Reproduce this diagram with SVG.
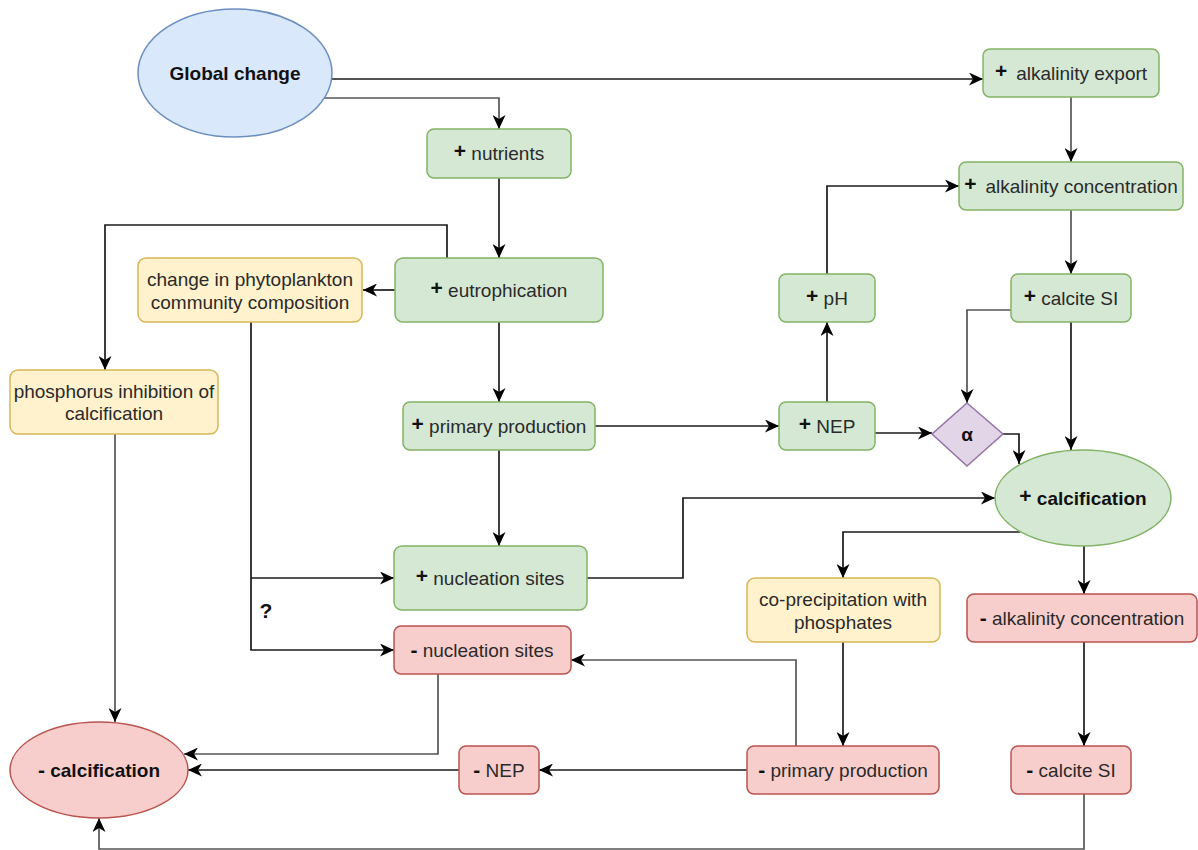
<svg xmlns="http://www.w3.org/2000/svg" width="1198" height="850" viewBox="0 0 1198 850">
<style>
text{font-family:"Liberation Sans",Arial,sans-serif;font-size:19px;fill:#2a2a2a;text-anchor:middle}
.b{font-weight:bold;fill:#111}
.s{font-weight:bold;fill:#111;font-size:21px}
.g{fill:#d5e8d4;stroke:#82b366;stroke-width:1.5}
.y{fill:#fff2cc;stroke:#d6b656;stroke-width:1.5}
.r{fill:#f8cecc;stroke:#b85450;stroke-width:1.5}
.bl{fill:#dae8fc;stroke:#6c8ebf;stroke-width:1.5}
.p{fill:#e1d5e7;stroke:#9673a6;stroke-width:1.5}
.c path{fill:none;stroke:#1a1a1a;stroke-width:1.7;marker-end:url(#a)}
.c path.gr{stroke:#555}
</style>
<defs>
<marker id="a" markerUnits="userSpaceOnUse" markerWidth="15" markerHeight="13" viewBox="0 0 15 13" refX="14" refY="6.5" orient="auto">
<path d="M0,0 L14,6.5 L0,13 L4,6.5 Z" fill="#000"/>
</marker>
</defs>
<rect width="1198" height="850" fill="#fff"/>
<g class="c" id="connectors">
<path d="M332,79 H983"/>
<path d="M323,98 H499 V129" class="gr"/>
<path d="M1071,97 V162" class="gr"/>
<path d="M1071,210 V274" class="gr"/>
<path d="M499,178 V258"/>
<path d="M395,290 H363"/>
<path d="M447,258 V225 H105 V370"/>
<path d="M499,322 V402"/>
<path d="M595,426 H779"/>
<path d="M827,402 V322"/>
<path d="M827,274 V186 H959"/>
<path d="M875,433 H932"/>
<path d="M1011,310 H967 V403" class="gr"/>
<path d="M1003,434 H1019 V464"/>
<path d="M1071,322 V450"/>
<path d="M499,450 V546"/>
<path d="M251,322 V650 H394"/>
<path d="M251,578 H394"/>
<path d="M587,578 H683 V498 H995"/>
<path d="M1020,532 H843 V578"/>
<path d="M1084,546 V594"/>
<path d="M843,642 V746"/>
<path d="M1084,642 V746"/>
<path d="M796,746 V660 H571" class="gr"/>
<path d="M747,770 H539"/>
<path d="M459,770 H188"/>
<path d="M438,674 V754 H184" class="gr"/>
<path d="M115,434 V722" class="gr"/>
<path d="M1084,794 V849 H99 V818" class="gr"/>
</g>
<g id="global-change"><ellipse class="bl" cx="235" cy="73" rx="97" ry="64"/><text x="235" y="80" class="b">Global change</text></g>
<g id="alk-export"><rect class="g" x="983" y="49" width="176" height="48" rx="7"/><text x="1071" y="80"><tspan class="s" dy="-2">+</tspan><tspan dx="9" dy="2">alkalinity export</tspan></text></g>
<g id="nutrients"><rect class="g" x="427" y="129" width="144" height="49" rx="7"/><text x="499" y="160"><tspan class="s" dy="-2">+</tspan><tspan dy="2"> nutrients</tspan></text></g>
<g id="alk-conc"><rect class="g" x="959" y="162" width="224" height="48" rx="7"/><text x="1071" y="193"><tspan class="s" dy="-2">+</tspan><tspan dx="9" dy="2">alkalinity concentration</tspan></text></g>
<g id="calcite-si"><rect class="g" x="1011" y="274" width="120" height="48" rx="7"/><text x="1071" y="305"><tspan class="s" dy="-2">+</tspan><tspan dy="2"> calcite SI</tspan></text></g>
<g id="phyto"><rect class="y" x="138" y="258" width="224" height="64" rx="8"/><text x="250" y="286">change in phytoplankton</text><text x="250" y="309">community composition</text></g>
<g id="eutrophication"><rect class="g" x="395" y="258" width="208" height="64" rx="8"/><text x="499" y="297"><tspan class="s" dy="-2">+</tspan><tspan dy="2"> eutrophication</tspan></text></g>
<g id="ph"><rect class="g" x="779" y="274" width="96" height="48" rx="7"/><text x="827" y="305"><tspan class="s" dy="-2">+</tspan><tspan dy="2"> pH</tspan></text></g>
<g id="phosphorus"><rect class="y" x="10" y="370" width="208" height="64" rx="8"/><text x="114" y="398">phosphorus inhibition of</text><text x="114" y="420">calcification</text></g>
<g id="primary-production"><rect class="g" x="403" y="402" width="192" height="48" rx="7"/><text x="499" y="433"><tspan class="s" dy="-2">+</tspan><tspan dy="2"> primary production</tspan></text></g>
<g id="nep"><rect class="g" x="779" y="402" width="96" height="48" rx="7"/><text x="827" y="433"><tspan class="s" dy="-2">+</tspan><tspan dy="2"> NEP</tspan></text></g>
<g id="alpha"><path class="p" d="M967,403 L1003,434 L967,466 L932,434 Z"/><text x="967" y="441" class="b">α</text></g>
<g id="calcification-plus"><ellipse class="g" cx="1083" cy="498" rx="88" ry="48"/><text x="1083" y="505" class="b"><tspan class="s" dy="-2">+</tspan><tspan dy="2"> calcification</tspan></text></g>
<g id="nucleation-plus"><rect class="g" x="394" y="546" width="193" height="64" rx="8"/><text x="490" y="585"><tspan class="s" dy="-2">+</tspan><tspan dy="2"> nucleation sites</tspan></text></g>
<g id="question"><text x="266" y="618" class="s">?</text></g>
<g id="nucleation-minus"><rect class="r" x="394" y="626" width="177" height="48" rx="7"/><text x="482" y="657"><tspan class="s">-</tspan> nucleation sites</text></g>
<g id="coprecipitation"><rect class="y" x="747" y="578" width="193" height="64" rx="8"/><text x="843" y="606">co-precipitation with</text><text x="843" y="629">phosphates</text></g>
<g id="alk-conc-minus"><rect class="r" x="967" y="594" width="230" height="48" rx="7"/><text x="1082" y="625"><tspan class="s">-</tspan> alkalinity concentration</text></g>
<g id="calcification-minus"><ellipse class="r" cx="99" cy="770" rx="89" ry="48"/><text x="99" y="777" class="b"><tspan class="s">-</tspan> calcification</text></g>
<g id="nep-minus"><rect class="r" x="459" y="746" width="80" height="48" rx="7"/><text x="499" y="777"><tspan class="s">-</tspan> NEP</text></g>
<g id="pp-minus"><rect class="r" x="747" y="746" width="192" height="48" rx="7"/><text x="843" y="777"><tspan class="s">-</tspan> primary production</text></g>
<g id="calcite-si-minus"><rect class="r" x="1011" y="746" width="120" height="48" rx="7"/><text x="1071" y="777"><tspan class="s">-</tspan> calcite SI</text></g>
</svg>
